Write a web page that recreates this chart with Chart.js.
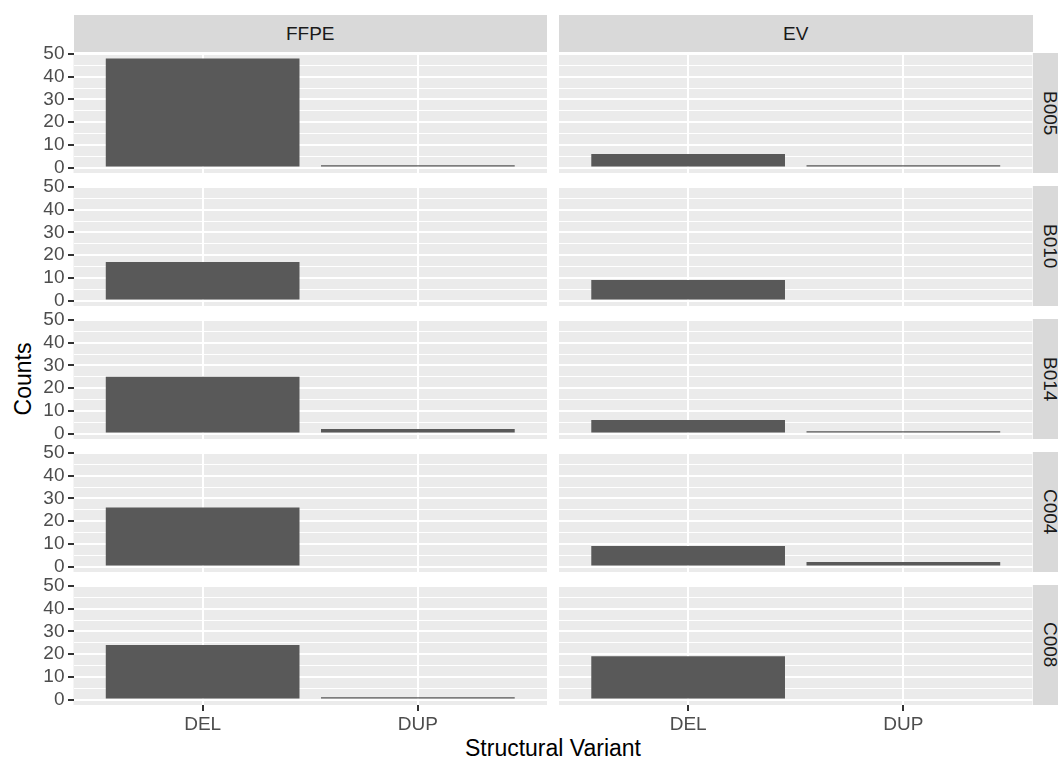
<!DOCTYPE html>
<html>
<head>
<meta charset="utf-8">
<script src="https://cdn.jsdelivr.net/npm/chart.js@4.4.1/dist/chart.umd.min.js"></script>
<style>
  html, body { margin: 0; padding: 0; background: #fff; }
  body { width: 1058px; height: 758px; position: relative; overflow: hidden; font-family: 'Liberation Sans', Arial, sans-serif; }
  canvas { position: absolute; left: 0; top: 0; }
  .strip { position: absolute; background: #d9d9d9; color: #1a1a1a; font-size: 19px; display: flex; align-items: center; justify-content: center; }
  .strip.right span { writing-mode: vertical-rl; }
  .title { position: absolute; color: #000; font-size: 23px; line-height: 23px; white-space: nowrap; }
</style>
</head>
<body>
<div class="title" id="xtitle">Structural Variant</div>
<div class="title" id="ytitle">Counts</div>
<script>
const samples = ['B005', 'B010', 'B014', 'C004', 'C008'];
const sources = ['FFPE', 'EV'];
const variants = ['DEL', 'DUP'];
// counts per sample, in the order of samples; null = no bar
const ffpeDel = [48, 17, 25, 26, 24];
const ffpeDup = [1, null, 2, null, 1];
const evDel = [6, 9, 6, 9, 19];
const evDup = [1, null, 1, 2, null];
const yTicks = [0, 5, 10, 15, 20, 25, 30, 35, 40, 45, 50];

const counts = { FFPE: [ffpeDel, ffpeDup], EV: [evDel, evDup] };

// panel layout (px)
const W = 1058, H = 758;
const colLeft = [73.5, 559];
const colWidth = 473.5;
const rowTop = 53, rowHeight = 120, rowStep = 133;
const yAxisWidth = 40, xAxisHeight = 50;

Chart.defaults.font.family = "'Liberation Sans', Arial, sans-serif";

const panelBg = {
  id: 'panelBg',
  beforeDraw(chart) {
    const a = chart.chartArea;
    const ctx = chart.ctx;
    ctx.save();
    ctx.fillStyle = '#ebebeb';
    ctx.fillRect(a.left, a.top, a.right - a.left, a.bottom - a.top);
    ctx.restore();
  }
};

function makeConfig(r, c) {
  const left = colLeft[c];
  const top = rowTop + r * rowStep;
  const showY = c === 0;
  const showX = r === samples.length - 1;
  const src = counts[sources[c]];
  return {
    type: 'bar',
    data: {
      datasets: [{
        data: variants.map((v, i) => ({ x: i + 1, y: src[i][r] })),
        backgroundColor: '#595959',
        borderWidth: 0,
        categoryPercentage: 0.9,
        barPercentage: 1
      }]
    },
    options: {
      responsive: false,
      animation: false,
      events: [],
      layout: {
        padding: {
          left: left - (showY ? yAxisWidth : 0),
          top: top,
          right: W - left - colWidth,
          bottom: H - top - rowHeight - (showX ? xAxisHeight : 0)
        }
      },
      plugins: {
        legend: { display: false },
        tooltip: { enabled: false }
      },
      scales: {
        x: {
          type: 'linear',
          min: 0.4,
          max: 2.6,
          offset: false,
          afterBuildTicks: s => { s.ticks = variants.map((v, i) => ({ value: i + 1 })); },
          afterFit: s => { s.height = showX ? xAxisHeight : 0; },
          border: { display: false },
          grid: {
            color: '#ffffff',
            lineWidth: 2,
            offset: false,
            drawTicks: showX,
            tickLength: 6,
            tickColor: '#333333',
            tickWidth: 2
          },
          ticks: {
            display: showX,
            padding: 2,
            color: '#4d4d4d',
            font: { size: 19 },
            maxRotation: 0,
            autoSkip: false,
            callback: v => variants[v - 1]
          }
        },
        y: {
          min: -2.4,
          max: 50.4,
          afterBuildTicks: s => { s.ticks = yTicks.map(v => ({ value: v })); },
          afterFit: s => { s.width = showY ? yAxisWidth : 0; },
          border: { display: false },
          grid: {
            color: '#ffffff',
            lineWidth: ctx => (ctx.tick && ctx.tick.value % 10 === 0) ? 2 : 1,
            drawTicks: showY,
            tickLength: 5.5,
            tickColor: ctx => (ctx.tick && ctx.tick.value % 10 === 0) ? '#333333' : 'rgba(0,0,0,0)',
            tickWidth: 2
          },
          ticks: {
            display: showY,
            padding: 3.5,
            color: '#4d4d4d',
            font: { size: 19 },
            autoSkip: false,
            callback: v => v % 10 === 0 ? v : ''
          }
        }
      }
    },
    plugins: [panelBg]
  };
}

// top strips
sources.forEach((s, c) => {
  const d = document.createElement('div');
  d.className = 'strip';
  d.style.left = colLeft[c] + 'px';
  d.style.top = '15px';
  d.style.width = colWidth + 'px';
  d.style.height = (rowTop - 1 - 15) + 'px';
  d.textContent = s;
  document.body.appendChild(d);
});

// right strips
samples.forEach((s, r) => {
  const d = document.createElement('div');
  d.className = 'strip right';
  d.style.left = (colLeft[1] + colWidth + 0.5) + 'px';
  d.style.top = (rowTop + r * rowStep) + 'px';
  d.style.width = '33px';
  d.style.height = rowHeight + 'px';
  const sp = document.createElement('span');
  sp.textContent = s;
  d.appendChild(sp);
  document.body.appendChild(d);
});

const charts = [];
samples.forEach((s, r) => {
  sources.forEach((src, c) => {
    const cv = document.createElement('canvas');
    cv.width = W;
    cv.height = H;
    document.body.appendChild(cv);
    charts.push(new Chart(cv, makeConfig(r, c)));
  });
});

// axis titles
const xt = document.getElementById('xtitle');
xt.style.left = (colLeft[0] + colLeft[1] + colWidth) / 2 + 'px';
xt.style.top = '737px';
xt.style.transform = 'translateX(-50%)';

const yt = document.getElementById('ytitle');
yt.style.left = '22.5px';
yt.style.top = (rowTop + (samples.length - 1) * rowStep + rowHeight + rowTop) / 2 + 'px';
yt.style.transform = 'translate(-50%, -50%) rotate(-90deg)';
</script>
</body>
</html>
